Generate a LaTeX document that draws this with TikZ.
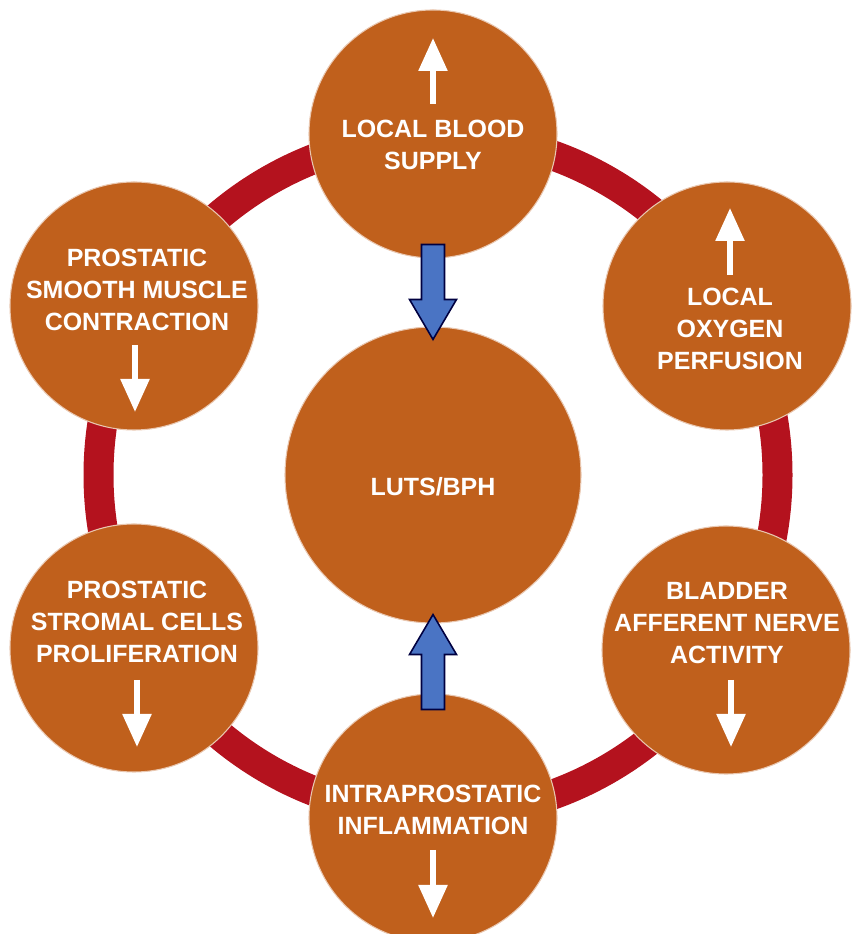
\documentclass[tikz,border=0pt]{standalone}
\usepackage{fontspec}
\setmainfont{Liberation Sans}
\usetikzlibrary{arrows.meta,calc}

\definecolor{rust}{RGB}{192,96,28}
\definecolor{ringred}{RGB}{180,18,30}
\definecolor{boxblue}{RGB}{74,116,196}

\tikzset{
  bubble/.style={circle,fill=rust,draw=rust!35!white,line width=0.6pt,minimum size=4.96cm,inner sep=0pt},
  hub/.style={bubble,minimum size=5.92cm},
  bubbletext/.style={text=white,font=\fontsize{14.2}{18.2}\selectfont\bfseries,align=center,inner sep=0pt},
  trend/.style={white,line width=3.2pt,-{Triangle[length=6.6mm,width=5.6mm]}},
  blockarrow/.style={fill=boxblue,draw=black!75!blue,line width=0.9pt,line join=miter},
}

\begin{document}
\begin{tikzpicture}
  \useasboundingbox (0,0) rectangle (17.16,18.68);
  % ring
  \draw[ringred,line width=0.6cm] (8.76,9.18) circle (6.79);
  % factor circles
  \foreach \n/\x/\y in {blood/8.66/16.00, oxygen/14.54/12.56, nerve/14.52/5.68,
                        inflam/8.66/2.32, stromal/2.68/5.72, muscle/2.68/12.56}
    \node[bubble] (\n) at (\x,\y) {};
  \node[hub] (luts) at (8.66,9.18) {};
  % blue block arrows
  \coordinate (d0) at ($(blood.south)+(0,0.28)$);
  \coordinate (d1) at ($(luts.north)+(0,-0.26)$);
  \draw[blockarrow] ($(d0)+(-0.23,0)$) -- ($(d1)+(-0.23,0.8)$) -- ($(d1)+(-0.47,0.8)$) -- (d1)
    -- ($(d1)+(0.47,0.8)$) -- ($(d1)+(0.23,0.8)$) -- ($(d0)+(0.23,0)$) -- cycle;
  \coordinate (u0) at ($(inflam.north)+(0,-0.32)$);
  \coordinate (u1) at ($(luts.south)+(0,0.18)$);
  \draw[blockarrow] ($(u0)+(-0.23,0)$) -- ($(u1)+(-0.23,-0.8)$) -- ($(u1)+(-0.47,-0.8)$) -- (u1)
    -- ($(u1)+(0.47,-0.8)$) -- ($(u1)+(0.23,-0.8)$) -- ($(u0)+(0.23,0)$) -- cycle;
  % labels
  \foreach \n/\dx/\dy/\t in {blood/0/-0.22/{LOCAL BLOOD\\SUPPLY},
                             oxygen/0.06/-0.46/{LOCAL\\OXYGEN\\PERFUSION},
                             nerve/0.02/0.54/{BLADDER\\AFFERENT NERVE\\ACTIVITY},
                             inflam/0/0.16/{INTRAPROSTATIC\\INFLAMMATION},
                             stromal/0.06/0.52/{PROSTATIC\\STROMAL CELLS\\PROLIFERATION},
                             muscle/0.06/0.32/{PROSTATIC\\SMOOTH MUSCLE\\CONTRACTION},
                             luts/0/-0.24/{LUTS/BPH}}
    \node[bubbletext] (\n-t) at ($(\n)+(\dx,\dy)$) {\t};
  % up / down trends
  \foreach \n/\dx/\a/\b in {blood/0/0.6/1.92, oxygen/0.06/0.62/1.96, muscle/0.02/-0.78/-2.12,
                            stromal/0.06/-0.64/-1.98, nerve/0.1/-0.6/-1.94, inflam/0/-0.64/-2.0}
    \draw[trend] ($(\n)+(\dx,\a)$) -- ($(\n)+(\dx,\b)$);
\end{tikzpicture}
\end{document}
